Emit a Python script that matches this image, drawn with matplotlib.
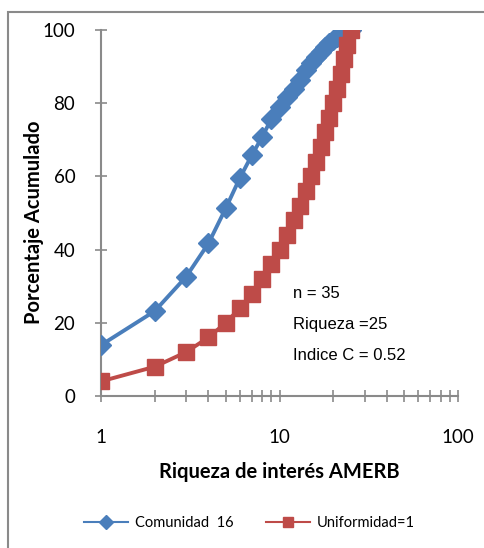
import matplotlib.pyplot as plt
from matplotlib.patches import Rectangle
from matplotlib.ticker import LogLocator, NullFormatter, FixedLocator

riqueza = list(range(1, 26))
comunidad_16 = [13.9, 23.2, 32.6, 41.7, 51.3, 59.6, 65.8, 70.8, 75.7, 79.0,
                81.7, 84.0, 86.3, 89.0, 91.0, 92.6, 94.0, 95.3, 96.4, 97.4,
                98.2, 98.9, 99.4, 99.8, 100.0]
uniformidad = [4, 8, 12, 16, 20, 24, 28, 32, 36, 40, 44, 48, 52, 56, 60,
               64, 68, 72, 76, 80, 84, 88, 92, 96, 100]
notas = ["n = 35", "Riqueza =25", "Indice C = 0.52"]

blue = "#4a7ebb"
red = "#be4b48"
grey = "#8a8a8a"
tick_font = "Lato"

fig = plt.figure(figsize=(4.84, 5.48), dpi=100)
fig.patches.append(Rectangle((8 / 484, -0.1), 1.2, 1 - 12 / 548 + 0.1,
                             transform=fig.transFigure, fill=False,
                             edgecolor=grey, linewidth=1.5))

ax = fig.add_axes([101 / 484, 1 - 396 / 548, 357 / 484, 366 / 548])

ax.plot(riqueza, comunidad_16, color=blue, lw=2.8, marker="D", ms=10.5,
        label="Comunidad  16", zorder=3)
ax.plot(riqueza, uniformidad, color=red, lw=2.8, marker="s", ms=11.5,
        label="Uniformidad=1", zorder=4)

ax.set_xscale("log")
ax.set_xlim(1, 100)
ax.set_ylim(0, 100)
ax.xaxis.set_major_locator(FixedLocator([1, 10, 100]))
ax.xaxis.set_major_formatter(plt.FuncFormatter(lambda v, p: f"{v:g}"))
ax.xaxis.set_minor_locator(LogLocator(base=10, subs=range(2, 10)))
ax.xaxis.set_minor_formatter(NullFormatter())
ax.set_yticks([0, 20, 40, 60, 80, 100])

for s in ["top", "right"]:
    ax.spines[s].set_visible(False)
for s in ["left", "bottom"]:
    ax.spines[s].set_color(grey)
    ax.spines[s].set_linewidth(1.5)

ax.tick_params(axis="both", which="both", direction="inout", color=grey,
               width=1.2, length=9)
ax.tick_params(axis="y", pad=14, labelsize=13.5)
ax.tick_params(axis="x", which="major", pad=19, labelsize=13.5)
for lab in ax.get_xticklabels() + ax.get_yticklabels():
    lab.set_fontfamily(tick_font)

ax.set_ylabel("Porcentaje Acumulado", fontsize=14.5, fontweight="bold",
              family=tick_font)
ax.yaxis.set_label_coords(-0.16, 0.475)
ax.set_xlabel("Riqueza de interés AMERB", fontsize=14.5, fontweight="bold",
              family=tick_font, labelpad=12)

for i, t in enumerate(notas):
    fig.text(293 / 484, 1 - (293 + 31 * i) / 548, t, fontsize=12,
             family="Liberation Sans", va="center", ha="left")

fig.legend(loc="center", bbox_to_anchor=(0.516, 1 - 523 / 548), ncol=2,
           frameon=False, prop={"family": tick_font, "size": 10.5},
           handlelength=3.0, handletextpad=0.5, columnspacing=2.2,
           markerscale=0.65)
for line in fig.legends[0].get_lines():
    line.set_linewidth(1.5)

fig.savefig("out.png", dpi=100)
